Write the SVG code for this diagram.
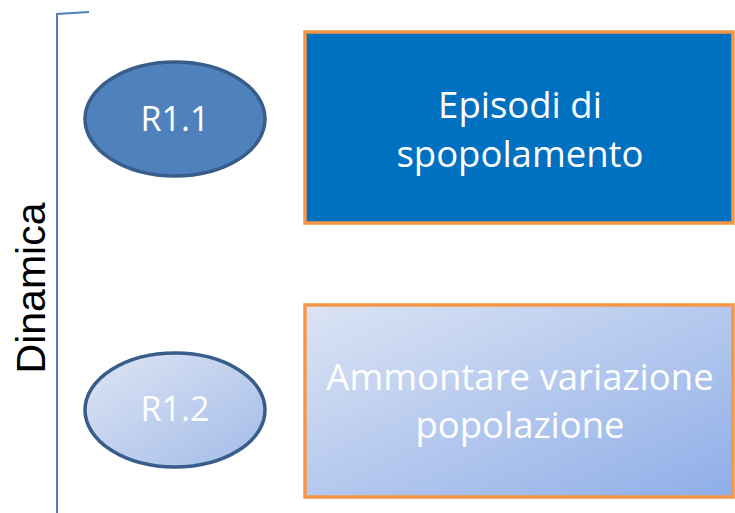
<svg xmlns="http://www.w3.org/2000/svg" width="735" height="513" viewBox="0 0 735 513">
<style>
.lbl{font-family:"Open Sans","Liberation Sans",sans-serif;fill:#ffffff;text-anchor:middle}
.ell{stroke:#385d8a;stroke-width:3.5}
.box{stroke:#f79646;stroke-width:3.5}
</style>
<defs>
<linearGradient id="g1" x1="0" y1="0" x2="1" y2="1">
<stop offset="0" stop-color="#dde5f4"/>
<stop offset="1" stop-color="#a3bbe8"/>
</linearGradient>
<linearGradient id="g2" x1="0" y1="0" x2="1" y2="1">
<stop offset="0" stop-color="#dce4f4"/>
<stop offset="1" stop-color="#8eaee8"/>
</linearGradient>
</defs>
<rect width="735" height="513" fill="#ffffff"/>
<g id="bracket">
<path d="M57,513 L57,14 L89,12" fill="none" stroke="#4f81bd" stroke-width="2"/>
<text x="0" y="0" transform="translate(45,288) rotate(-90)" font-family="Liberation Sans,Arial,sans-serif" font-size="41" fill="#000000" text-anchor="middle">Dinamica</text>
</g>
<g id="connectors"></g>
<g id="r11">
<ellipse class="ell" cx="175" cy="119" rx="90" ry="57" fill="#4f81bd"/>
<text class="lbl" x="175" y="131" font-size="34">R1.1</text>
</g>
<g id="r12">
<ellipse class="ell" cx="175" cy="410" rx="90" ry="57" fill="url(#g1)"/>
<text class="lbl" x="175" y="421" font-size="34">R1.2</text>
</g>
<g id="box1">
<rect class="box" x="305" y="32" width="428" height="191" fill="#0070c0"/>
<text class="lbl" x="520" y="118" font-size="36.5">Episodi di</text>
<text class="lbl" x="520" y="167" font-size="36.5">spopolamento</text>
</g>
<g id="box2">
<rect class="box" x="305" y="305" width="428" height="192" fill="url(#g2)"/>
<text class="lbl" x="520" y="390" font-size="36.5">Ammontare variazione</text>
<text class="lbl" x="520" y="438" font-size="36.5">popolazione</text>
</g>
</svg>
